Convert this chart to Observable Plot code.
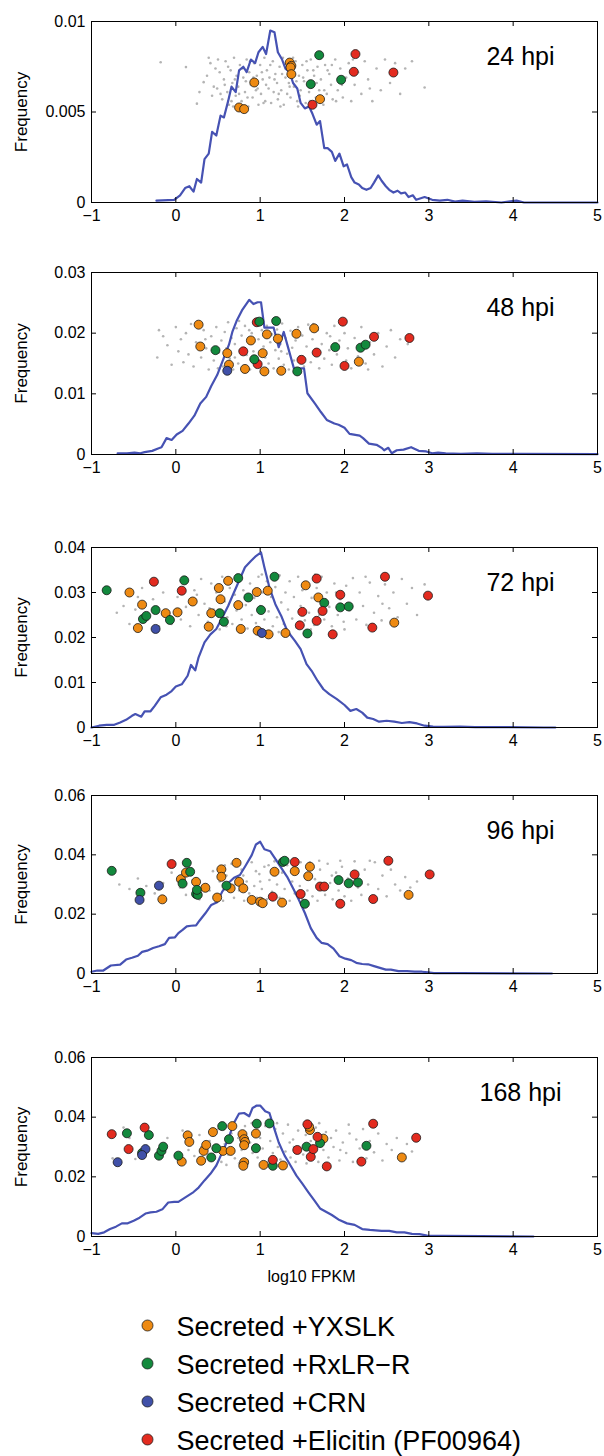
<!DOCTYPE html>
<html><head><meta charset="utf-8">
<script src="https://cdn.jsdelivr.net/npm/d3@7"></script>
<script src="https://cdn.jsdelivr.net/npm/@observablehq/plot@0.6"></script>
<style>
body{margin:0;background:#fff;font-family:"Liberation Sans",Arial,sans-serif}
#root{position:relative;width:604px;height:1456px;overflow:hidden;background:#fff}
</style></head>
<body><div id="root"></div>
<script>
const categories = ["Secreted +YXSLK","Secreted +RxLR\u2212R","Secreted +CRN","Secreted +Elicitin (PF00964)"];
const catColors = ["#ee8a12","#13893d","#4050a8","#e32b1f"];
const xTicks = [-1,0,1,2,3,4,5];
const panelLabels = ["24 hpi","48 hpi","72 hpi","96 hpi","168 hpi"];
const yMax = [0.01,0.03,0.04,0.06,0.06];
const yTicks24 = [0,0.005,0.01];
const yTicks48 = [0,0.01,0.02,0.03];
const yTicks72 = [0,0.01,0.02,0.03,0.04];
const yTicks96 = [0,0.02,0.04,0.06];
const yTicks168 = [0,0.02,0.04,0.06];

// background frequency distributions (blue lines)
const line24 = [[-0.23,0.0001],[-0.02,0.00015],[0.05,0.0004],[0.11,0.0008],[0.16,0.0009],[0.21,0.0006],[0.25,0.0013],[0.30,0.0011],[0.34,0.0024],[0.39,0.0027],[0.43,0.0039],[0.48,0.0037],[0.53,0.0048],[0.57,0.0047],[0.62,0.0056],[0.66,0.0064],[0.71,0.0061],[0.75,0.0073],[0.80,0.0075],[0.84,0.0072],[0.89,0.0079],[0.94,0.0077],[0.98,0.0083],[1.03,0.0086],[1.07,0.0082],[1.12,0.0095],[1.17,0.0094],[1.21,0.0083],[1.26,0.0079],[1.30,0.0074],[1.35,0.0072],[1.39,0.0066],[1.44,0.0063],[1.48,0.0055],[1.53,0.0052],[1.58,0.0053],[1.62,0.0049],[1.67,0.0043],[1.71,0.0045],[1.76,0.0030],[1.80,0.0030],[1.85,0.0028],[1.89,0.0023],[1.94,0.0027],[1.99,0.0020],[2.03,0.0021],[2.08,0.0014],[2.12,0.0011],[2.17,0.0010],[2.21,0.0008],[2.26,0.0007],[2.31,0.0008],[2.35,0.0011],[2.40,0.0015],[2.44,0.0012],[2.49,0.0009],[2.53,0.0007],[2.58,0.00055],[2.63,0.00065],[2.67,0.0005],[2.72,0.00055],[2.76,0.0003],[2.81,0.0004],[2.85,0.00015],[2.95,0.0003],[3.04,0.00015],[3.13,0.0001],[3.22,0.00015],[3.31,0.00005],[3.40,0.0001],[3.54,0.00004],[3.68,0.00007],[3.86,0],[4.04,0.0001],[4.13,0],[5.0,0]];
const line48 = [[-0.69,0.00017],[-0.58,0.00017],[-0.49,0.0003],[-0.42,0.0002],[-0.37,0.0004],[-0.28,0.0006],[-0.21,0.001],[-0.17,0.0012],[-0.11,0.0027],[-0.05,0.0024],[0.01,0.0033],[0.08,0.0039],[0.15,0.0051],[0.22,0.0064],[0.29,0.0084],[0.36,0.0095],[0.42,0.0113],[0.49,0.0131],[0.56,0.0156],[0.63,0.0181],[0.67,0.0202],[0.72,0.0220],[0.79,0.0239],[0.87,0.0255],[0.92,0.0248],[0.97,0.0251],[1.01,0.0251],[1.05,0.0209],[1.16,0.0209],[1.22,0.0177],[1.28,0.0202],[1.33,0.0177],[1.40,0.0142],[1.52,0.0142],[1.56,0.0101],[1.65,0.0084],[1.72,0.0070],[1.79,0.0057],[1.88,0.0051],[1.93,0.0049],[2.00,0.0044],[2.06,0.0034],[2.18,0.0031],[2.22,0.0027],[2.29,0.0018],[2.38,0.0016],[2.44,0.0011],[2.47,0.0007],[2.52,0.0011],[2.56,0.0002],[2.62,0.0007],[2.70,0.0008],[2.79,0.0012],[2.88,0.0006],[2.97,0.0005],[3.04,0.0002],[3.11,0.0003],[3.20,0.0002],[3.38,0.0001],[3.57,0.0002],[3.75,0.0001],[4.07,0.0001],[5.0,0.00005]];
const line72 = [[-1.0,0],[-0.91,0.0004],[-0.82,0.0006],[-0.73,0.0006],[-0.66,0.0011],[-0.59,0.0017],[-0.52,0.0026],[-0.48,0.003],[-0.41,0.0024],[-0.37,0.0036],[-0.30,0.0036],[-0.25,0.0048],[-0.18,0.0067],[-0.11,0.0073],[-0.05,0.0081],[0.0,0.0091],[0.07,0.0096],[0.14,0.0115],[0.18,0.0139],[0.23,0.0127],[0.27,0.0156],[0.34,0.0189],[0.41,0.0207],[0.48,0.0219],[0.55,0.0244],[0.62,0.0270],[0.68,0.0296],[0.75,0.0326],[0.82,0.0356],[0.89,0.0370],[0.95,0.0381],[1.01,0.0389],[1.05,0.0356],[1.11,0.0311],[1.18,0.0274],[1.25,0.0248],[1.32,0.0215],[1.41,0.0193],[1.48,0.0174],[1.55,0.0141],[1.61,0.0126],[1.68,0.0104],[1.75,0.0085],[1.82,0.0074],[1.91,0.0063],[2.0,0.005],[2.07,0.0037],[2.14,0.0041],[2.21,0.0033],[2.27,0.0022],[2.34,0.0019],[2.41,0.0013],[2.50,0.0015],[2.59,0.0013],[2.68,0.0010],[2.77,0.0012],[2.86,0.0009],[2.95,0.0004],[3.05,0.0002],[3.18,0.00015],[3.37,0.0002],[3.55,0.0001],[3.82,0.0001],[4.36,0],[4.50,0]];
const line96 = [[-1,0.0006],[-0.93,0.001],[-0.86,0.001],[-0.77,0.0027],[-0.66,0.003],[-0.59,0.0047],[-0.52,0.0053],[-0.45,0.006],[-0.40,0.0073],[-0.34,0.0077],[-0.27,0.0086],[-0.20,0.0092],[-0.13,0.0099],[-0.08,0.012],[-0.01,0.0122],[0.03,0.0136],[0.08,0.0147],[0.13,0.0159],[0.18,0.0161],[0.24,0.0162],[0.28,0.0178],[0.35,0.0203],[0.42,0.0231],[0.49,0.0240],[0.55,0.0276],[0.62,0.0304],[0.69,0.0323],[0.76,0.0332],[0.83,0.0365],[0.90,0.0399],[0.95,0.0435],[1.0,0.0444],[1.05,0.0419],[1.12,0.0412],[1.19,0.0382],[1.25,0.0356],[1.32,0.0326],[1.39,0.0287],[1.46,0.0248],[1.53,0.0204],[1.60,0.0153],[1.67,0.0120],[1.73,0.0103],[1.80,0.0099],[1.87,0.0084],[1.94,0.0058],[2.01,0.0050],[2.08,0.0045],[2.14,0.0036],[2.21,0.0032],[2.28,0.0031],[2.35,0.0025],[2.42,0.0019],[2.49,0.0013],[2.55,0.0013],[2.64,0.0008],[2.74,0.0008],[2.83,0.0006],[2.92,0.0006],[2.99,0.0004],[3.06,0.0001],[3.37,0.0001],[4.46,0]];
const line168 = [[-1,0.0011],[-0.92,0.0009],[-0.85,0.0014],[-0.78,0.0025],[-0.71,0.0033],[-0.64,0.0044],[-0.57,0.0044],[-0.50,0.0053],[-0.43,0.0063],[-0.36,0.0077],[-0.30,0.0081],[-0.23,0.0083],[-0.16,0.0091],[-0.09,0.0114],[-0.02,0.0116],[0.03,0.0116],[0.09,0.0127],[0.15,0.0138],[0.21,0.0149],[0.27,0.0164],[0.34,0.0188],[0.41,0.0210],[0.48,0.0238],[0.55,0.0282],[0.62,0.0326],[0.69,0.0381],[0.75,0.0412],[0.81,0.0414],[0.87,0.0403],[0.91,0.0431],[0.96,0.0439],[1.0,0.0439],[1.06,0.0420],[1.11,0.0414],[1.17,0.0359],[1.22,0.0315],[1.29,0.0271],[1.36,0.0238],[1.43,0.0204],[1.50,0.0177],[1.57,0.0149],[1.64,0.0122],[1.71,0.0094],[1.78,0.0083],[1.85,0.0072],[1.94,0.0055],[2.03,0.0044],[2.12,0.0039],[2.21,0.0025],[2.30,0.0022],[2.44,0.0019],[2.53,0.0019],[2.62,0.0014],[2.71,0.0014],[2.80,0.0009],[2.89,0.0008],[2.98,0.0003],[3.16,0.0002],[3.62,0.0001],[4.24,0]];

// secreted genes: [log10 FPKM, frequency position, category index]
const pts24 = [[0.75,0.00525,0],[0.81,0.00516,0],[0.93,0.00663,0],[1.35,0.00773,0],[1.37,0.00755,0],[1.36,0.00746,0],[1.37,0.00709,0],[1.71,0.00571,0],[1.70,0.00814,1],[1.60,0.00654,1],[1.96,0.00678,1],[2.13,0.0082,3],[2.11,0.00722,3],[2.58,0.00718,3],[1.62,0.0054,3]];
const pts48 = [[0.27,0.0214,0],[0.29,0.0178,0],[0.61,0.0167,0],[0.63,0.0148,0],[0.82,0.0141,0],[0.89,0.0188,0],[1.03,0.0167,0],[1.05,0.0137,0],[1.08,0.0198,0],[1.21,0.0191,0],[1.25,0.0138,0],[1.43,0.0199,0],[1.64,0.0208,0],[2.17,0.0153,0],[0.61,0.0138,2],[0.96,0.0218,3],[0.80,0.0170,3],[0.97,0.0149,3],[1.49,0.0156,3],[1.67,0.0168,3],[1.98,0.0219,3],[2.00,0.0146,3],[2.35,0.0194,3],[2.77,0.0192,3],[0.47,0.0172,1],[0.93,0.0157,1],[0.99,0.0219,1],[1.19,0.0220,1],[1.44,0.0137,1],[1.89,0.0177,1],[2.19,0.0176,1],[2.25,0.0181,1]];
const pts72 = [[-0.55,0.0300,0],[-0.40,0.0273,0],[-0.45,0.0221,0],[-0.12,0.0254,0],[0.02,0.0256,0],[0.20,0.0280,0],[0.42,0.0254,0],[0.39,0.0224,0],[0.51,0.0310,0],[0.53,0.0285,0],[0.62,0.0326,0],[0.74,0.0272,0],[0.77,0.0219,0],[0.96,0.0301,0],[0.97,0.0215,0],[1.09,0.0304,0],[1.10,0.0207,0],[1.30,0.0210,0],[1.54,0.0316,0],[1.69,0.0289,0],[2.59,0.0233,0],[-0.24,0.0219,2],[1.02,0.0210,2],[-0.82,0.0305,1],[-0.39,0.0241,1],[-0.35,0.0248,1],[-0.24,0.0261,1],[-0.07,0.0239,1],[0.10,0.0327,1],[0.52,0.0254,1],[0.57,0.0235,1],[0.74,0.0332,1],[0.86,0.0289,1],[1.01,0.0261,1],[1.17,0.0335,1],[1.56,0.0209,1],[1.76,0.0277,1],[1.95,0.0267,1],[2.05,0.0269,1],[-0.26,0.0324,3],[0.07,0.0304,3],[1.67,0.0331,3],[1.95,0.0295,3],[1.50,0.0257,3],[1.74,0.0259,3],[1.67,0.0237,3],[1.47,0.0227,3],[1.86,0.0207,3],[2.33,0.0222,3],[2.48,0.0335,3],[2.99,0.0293,3]];
const pts96 = [[-0.16,0.0250,0],[0.06,0.0318,0],[0.12,0.0340,0],[0.24,0.0309,0],[0.35,0.0289,0],[0.49,0.0256,0],[0.54,0.0351,0],[0.54,0.0326,0],[0.65,0.0287,0],[0.72,0.0373,0],[0.75,0.0309,0],[0.80,0.0287,0],[0.90,0.0248,0],[1.00,0.0242,0],[1.03,0.0237,0],[1.17,0.0343,0],[1.26,0.0239,0],[1.41,0.0345,0],[1.59,0.0360,0],[1.57,0.0328,0],[2.76,0.0265,0],[-0.76,0.0346,1],[-0.42,0.0272,1],[0.08,0.0303,1],[0.13,0.0373,1],[0.17,0.0343,1],[0.24,0.0268,1],[0.26,0.0265,1],[0.25,0.0282,1],[0.60,0.0296,1],[1.27,0.0376,1],[1.29,0.0380,1],[1.53,0.0235,1],[1.93,0.0315,1],[2.05,0.0304,1],[2.16,0.0307,1],[-0.43,0.0248,2],[-0.20,0.0296,2],[-0.05,0.0369,3],[1.15,0.0259,3],[1.41,0.0376,3],[1.48,0.0268,3],[1.71,0.0293,3],[1.76,0.0293,3],[2.12,0.0334,3],[1.95,0.0235,3],[2.34,0.0251,3],[2.52,0.0380,3],[3.01,0.0334,3]];
const pts168 = [[0.14,0.0339,0],[0.16,0.0317,0],[0.07,0.0251,0],[0.30,0.0254,0],[0.33,0.0287,0],[0.36,0.0307,0],[0.44,0.0350,0],[0.56,0.0287,0],[0.65,0.0287,0],[0.67,0.0370,0],[0.79,0.0343,0],[0.81,0.0326,0],[0.82,0.0317,0],[0.81,0.0306,0],[0.81,0.0249,0],[0.80,0.0237,0],[0.95,0.0345,0],[1.04,0.0240,0],[1.27,0.0238,0],[1.59,0.0357,0],[1.58,0.0368,0],[1.75,0.0328,0],[2.68,0.0265,0],[-0.58,0.0346,1],[-0.32,0.0340,1],[-0.40,0.0280,1],[-0.20,0.0271,1],[-0.17,0.0287,1],[-0.15,0.0301,1],[0.03,0.0271,1],[0.42,0.0265,1],[0.48,0.0296,1],[0.55,0.0370,1],[0.63,0.0326,1],[0.96,0.0378,1],[0.95,0.0296,1],[1.11,0.0379,1],[1.15,0.0237,1],[1.55,0.0301,1],[1.71,0.0313,1],[2.26,0.0304,1],[-0.69,0.0249,2],[-0.36,0.0293,2],[-0.40,0.0273,2],[-0.76,0.0343,3],[-0.56,0.0293,3],[-0.37,0.0365,3],[1.15,0.0257,3],[1.56,0.0376,3],[1.60,0.0267,3],[1.63,0.0293,3],[1.68,0.0334,3],[1.44,0.0290,3],[1.79,0.0235,3],[2.20,0.0251,3],[2.34,0.0378,3],[2.85,0.0331,3]];

// all expressed genes (grey background points)
const gray24 = [[-0.18,0.00775],[0.12,0.00748],[0.25,0.00546],[0.28,0.0061],[0.33,0.00665],[0.37,0.007],[0.39,0.008],[0.41,0.0077],[0.43,0.0059],[0.45,0.0064],[0.47,0.0074],[0.49,0.0063],[0.52,0.0072],[0.55,0.0057],[0.57,0.0068],[0.59,0.0078],[0.61,0.0061],[0.63,0.0054],[0.65,0.0073],[0.67,0.0066],[0.69,0.008],[0.71,0.0059],[0.72,0.007],[0.74,0.0064],[0.76,0.0076],[0.78,0.0056],[0.80,0.0069],[0.82,0.0061],[0.84,0.0079],[0.86,0.0053],[0.87,0.0072],[0.89,0.0065],[0.91,0.0058],[0.93,0.0077],[0.95,0.0062],[0.96,0.007],[0.98,0.0054],[1.00,0.0076],[1.01,0.006],[1.03,0.0068],[1.05,0.008],[1.06,0.0056],[1.08,0.0073],[1.10,0.0063],[1.11,0.0069],[1.13,0.0055],[1.15,0.0078],[1.16,0.0061],[1.18,0.0071],[1.20,0.0066],[1.21,0.0057],[1.23,0.0075],[1.25,0.0062],[1.27,0.008],[1.28,0.0054],[1.30,0.0069],[1.32,0.006],[1.34,0.0066],[1.36,0.0058],[1.38,0.0072],[1.40,0.0064],[1.42,0.0078],[1.44,0.0056],[1.46,0.007],[1.48,0.0062],[1.50,0.0076],[1.52,0.0067],[1.54,0.0055],[1.56,0.0073],[1.58,0.0061],[1.60,0.0079],[1.62,0.0064],[1.64,0.007],[1.66,0.0058],[1.68,0.0075],[1.70,0.0062],[1.72,0.0068],[1.75,0.0054],[1.77,0.0076],[1.79,0.006],[1.82,0.0071],[1.84,0.0065],[1.86,0.0057],[1.89,0.0079],[1.92,0.0062],[1.95,0.0074],[1.98,0.0058],[2.02,0.0069],[2.05,0.0077],[2.08,0.0056],[2.12,0.0065],[2.16,0.0072],[2.20,0.006],[2.24,0.0078],[2.28,0.0068],[2.33,0.0056],[2.38,0.0074],[2.43,0.0062],[2.48,0.0079],[2.54,0.0066],[2.60,0.0077],[2.66,0.006],[2.72,0.0074],[2.80,0.0078],[2.95,0.00635],[0.50,0.0079],[0.53,0.006],[0.58,0.0065],[0.62,0.0075],[0.66,0.0056],[0.70,0.0068],[0.75,0.006],[0.79,0.0074],[0.83,0.0067],[0.88,0.0078],[0.92,0.0069],[0.97,0.0063],[1.02,0.0072],[1.07,0.0065],[1.12,0.0076],[1.17,0.0068],[1.22,0.006],[1.26,0.0071],[1.31,0.0077],[1.35,0.0064],[1.39,0.008],[1.43,0.0067],[1.47,0.0059],[1.51,0.0069],[1.55,0.0078],[1.59,0.0056],[1.63,0.0073],[1.67,0.0066],[1.71,0.008],[1.76,0.0062],[1.80,0.0073],[1.85,0.0076],[1.90,0.0056],[1.97,0.0065],[2.10,0.0079],[2.30,0.0063],[0.85,0.0058],[1.04,0.0055],[1.24,0.0053],[1.45,0.0053],[0.68,0.0053],[1.65,0.0054]];
const gray48 = [[-0.22,0.016],[-0.20,0.0205],[-0.15,0.0195],[-0.10,0.018],[-0.05,0.0148],[0.00,0.021],[0.03,0.017],[0.06,0.019],[0.09,0.0152],[0.12,0.02],[0.15,0.0165],[0.18,0.0215],[0.21,0.0145],[0.24,0.0185],[0.30,0.016],[0.33,0.0205],[0.36,0.0175],[0.39,0.014],[0.42,0.0195],[0.45,0.0155],[0.48,0.021],[0.51,0.0168],[0.54,0.0188],[0.56,0.0145],[0.58,0.0202],[0.60,0.0175],[0.62,0.0218],[0.64,0.0158],[0.66,0.0192],[0.68,0.014],[0.70,0.0182],[0.72,0.0208],[0.74,0.015],[0.76,0.0172],[0.78,0.0196],[0.80,0.0146],[0.82,0.0212],[0.84,0.0164],[0.86,0.0186],[0.88,0.014],[0.90,0.02],[0.92,0.017],[0.94,0.0216],[0.96,0.0155],[0.98,0.019],[1.00,0.0145],[1.02,0.0205],[1.04,0.0178],[1.06,0.016],[1.08,0.0212],[1.10,0.015],[1.12,0.0185],[1.14,0.0198],[1.16,0.0142],[1.18,0.0172],[1.20,0.0206],[1.22,0.0158],[1.24,0.0182],[1.26,0.0216],[1.28,0.0148],[1.30,0.0192],[1.32,0.0166],[1.34,0.014],[1.36,0.0204],[1.38,0.0176],[1.40,0.0155],[1.42,0.0188],[1.45,0.021],[1.47,0.0162],[1.50,0.0196],[1.52,0.0145],[1.55,0.0178],[1.57,0.0214],[1.60,0.0152],[1.62,0.019],[1.65,0.0168],[1.68,0.0205],[1.70,0.0142],[1.73,0.0182],[1.76,0.0158],[1.79,0.02],[1.82,0.0172],[1.85,0.0148],[1.88,0.0212],[1.91,0.0165],[1.94,0.0188],[1.97,0.015],[2.00,0.02],[2.04,0.0175],[2.08,0.0142],[2.12,0.0192],[2.16,0.0162],[2.20,0.021],[2.25,0.015],[2.30,0.0185],[2.35,0.0165],[2.40,0.02],[2.45,0.0145],[2.50,0.0178],[2.55,0.0205],[2.60,0.016],[2.66,0.019],[2.75,0.0182],[0.50,0.0142],[0.70,0.016],[0.87,0.0205],[1.05,0.0195],[1.25,0.017],[1.44,0.014],[1.63,0.0215],[1.83,0.0195],[2.02,0.0155],[0.35,0.019],[2.28,0.014],[1.15,0.0222],[0.75,0.022],[1.95,0.022]];
const gray72 = [[-0.70,0.0255],[-0.62,0.027],[-0.55,0.023],[-0.48,0.0262],[-0.40,0.031],[-0.33,0.024],[-0.27,0.0285],[-0.20,0.0225],[-0.15,0.03],[-0.10,0.0255],[-0.05,0.023],[0.02,0.029],[0.06,0.024],[0.12,0.0268],[0.17,0.0225],[0.22,0.0305],[0.27,0.025],[0.30,0.033],[0.34,0.0275],[0.38,0.0235],[0.42,0.032],[0.45,0.0262],[0.48,0.03],[0.52,0.0218],[0.55,0.0335],[0.58,0.028],[0.61,0.0245],[0.64,0.031],[0.67,0.023],[0.70,0.0295],[0.72,0.026],[0.75,0.0338],[0.78,0.024],[0.80,0.0305],[0.83,0.0272],[0.85,0.022],[0.88,0.032],[0.90,0.025],[0.93,0.0288],[0.95,0.0232],[0.98,0.0335],[1.00,0.027],[1.03,0.03],[1.05,0.024],[1.08,0.0325],[1.10,0.0258],[1.13,0.029],[1.15,0.0225],[1.18,0.0312],[1.20,0.0245],[1.23,0.0338],[1.25,0.0278],[1.28,0.023],[1.30,0.03],[1.33,0.0262],[1.35,0.0325],[1.38,0.0242],[1.40,0.029],[1.43,0.0222],[1.45,0.0335],[1.48,0.027],[1.50,0.0305],[1.53,0.0238],[1.56,0.032],[1.58,0.0255],[1.61,0.0288],[1.64,0.0228],[1.67,0.031],[1.70,0.025],[1.73,0.0335],[1.76,0.024],[1.79,0.03],[1.82,0.0268],[1.85,0.0225],[1.88,0.032],[1.92,0.025],[1.95,0.0285],[1.99,0.0235],[2.02,0.0315],[2.06,0.026],[2.10,0.0332],[2.14,0.024],[2.18,0.03],[2.22,0.027],[2.26,0.0228],[2.30,0.0322],[2.35,0.0255],[2.40,0.0292],[2.44,0.0238],[2.48,0.0318],[2.53,0.0265],[2.58,0.03],[2.63,0.0245],[2.68,0.033],[2.74,0.0275],[2.80,0.031],[2.86,0.025],[2.95,0.0318],[0.60,0.0225],[0.97,0.0215],[1.22,0.0212],[1.60,0.0218],[2.00,0.0218],[0.40,0.0265],[1.02,0.034],[1.65,0.034],[2.25,0.0335],[0.25,0.0295],[1.90,0.03],[2.45,0.0275],[-0.45,0.029],[0.10,0.032]];
const gray96 = [[-0.67,0.03],[-0.55,0.0285],[-0.45,0.032],[-0.35,0.0295],[-0.25,0.027],[-0.15,0.0305],[-0.05,0.034],[0.05,0.029],[0.12,0.0265],[0.20,0.0315],[0.28,0.025],[0.35,0.03],[0.40,0.028],[0.44,0.0345],[0.48,0.0262],[0.52,0.031],[0.56,0.0245],[0.60,0.033],[0.63,0.029],[0.66,0.037],[0.69,0.0255],[0.72,0.032],[0.75,0.028],[0.78,0.035],[0.81,0.0245],[0.84,0.031],[0.87,0.027],[0.90,0.0375],[0.93,0.0295],[0.96,0.0255],[0.99,0.0335],[1.02,0.0285],[1.05,0.036],[1.08,0.025],[1.11,0.0315],[1.14,0.0275],[1.17,0.0378],[1.20,0.03],[1.23,0.0255],[1.26,0.034],[1.29,0.0285],[1.32,0.0365],[1.35,0.0245],[1.38,0.031],[1.41,0.027],[1.44,0.0355],[1.47,0.0295],[1.50,0.025],[1.53,0.033],[1.56,0.028],[1.59,0.0375],[1.62,0.026],[1.65,0.0318],[1.68,0.0245],[1.71,0.035],[1.74,0.029],[1.77,0.0265],[1.80,0.037],[1.83,0.0305],[1.86,0.025],[1.90,0.034],[1.93,0.028],[1.97,0.036],[2.00,0.026],[2.04,0.032],[2.08,0.0245],[2.12,0.0378],[2.16,0.029],[2.20,0.0265],[2.24,0.035],[2.28,0.03],[2.32,0.025],[2.36,0.0375],[2.40,0.0285],[2.45,0.033],[2.50,0.026],[2.55,0.035],[2.60,0.03],[2.66,0.028],[2.72,0.0325],[2.78,0.029],[2.86,0.031],[0.58,0.0365],[0.80,0.033],[0.95,0.0345],[1.10,0.0365],[1.25,0.0375],[1.48,0.0375],[1.70,0.038],[1.95,0.038],[2.30,0.038],[0.70,0.03],[1.00,0.031],[1.40,0.034],[1.85,0.033],[2.15,0.033]];
const gray168 = [[-0.75,0.0262],[-0.62,0.0365],[-0.48,0.026],[-0.35,0.035],[-0.22,0.0275],[-0.10,0.033],[0.00,0.0265],[0.08,0.0355],[0.15,0.029],[0.22,0.027],[0.28,0.034],[0.34,0.0255],[0.40,0.032],[0.46,0.0285],[0.50,0.036],[0.54,0.025],[0.58,0.031],[0.62,0.0275],[0.66,0.0345],[0.70,0.0262],[0.74,0.033],[0.78,0.029],[0.82,0.037],[0.85,0.0255],[0.88,0.0315],[0.91,0.028],[0.94,0.0355],[0.97,0.0265],[1.00,0.033],[1.03,0.0295],[1.06,0.037],[1.09,0.025],[1.12,0.032],[1.15,0.028],[1.18,0.036],[1.21,0.03],[1.24,0.0258],[1.27,0.0345],[1.30,0.0285],[1.33,0.0375],[1.36,0.0265],[1.39,0.0325],[1.42,0.025],[1.45,0.0355],[1.48,0.0295],[1.51,0.0275],[1.54,0.034],[1.57,0.026],[1.60,0.032],[1.63,0.028],[1.66,0.0365],[1.69,0.025],[1.72,0.031],[1.75,0.029],[1.78,0.035],[1.81,0.0265],[1.84,0.033],[1.87,0.03],[1.90,0.0355],[1.94,0.0255],[1.98,0.0315],[2.02,0.028],[2.06,0.0345],[2.10,0.025],[2.14,0.0325],[2.18,0.0295],[2.22,0.036],[2.26,0.0262],[2.30,0.032],[2.35,0.0282],[2.40,0.0345],[2.45,0.0255],[2.50,0.031],[2.56,0.029],[2.62,0.033],[2.68,0.027],[2.74,0.031],[2.80,0.0285],[0.60,0.024],[1.05,0.0245],[1.40,0.03],[1.70,0.038],[1.20,0.038],[0.90,0.038],[2.05,0.0375],[1.55,0.0245],[0.75,0.0245],[2.20,0.025],[1.95,0.029],[1.35,0.0315],[0.30,0.03],[-0.55,0.033]];

const panels = [
  {label: panelLabels[0], ymax: yMax[0], yticks: yTicks24, line: line24, pts: pts24, gray: gray24, top: 21, bottom: 202},
  {label: panelLabels[1], ymax: yMax[1], yticks: yTicks48, line: line48, pts: pts48, gray: gray48, top: 272, bottom: 454},
  {label: panelLabels[2], ymax: yMax[2], yticks: yTicks72, line: line72, pts: pts72, gray: gray72, top: 547, bottom: 727},
  {label: panelLabels[3], ymax: yMax[3], yticks: yTicks96, line: line96, pts: pts96, gray: gray96, top: 795, bottom: 973},
  {label: panelLabels[4], ymax: yMax[4], yticks: yTicks168, line: line168, pts: pts168, gray: gray168, top: 1057, bottom: 1236, last: true}
];

const FONT = "'Liberation Sans', Arial, Helvetica, sans-serif";
const LINE = "#4652b3";
const root = document.getElementById("root");
const fmtX = d => d < 0 ? "\u2212" + (-d) : String(d);
const ML = 91, MR = 7, W = 604;

for (const p of panels) {
  const mt = 14, mb = p.last ? 60 : 30;
  const fh = p.bottom - p.top;
  const fw = W - ML - MR;
  const chart = Plot.plot({
    width: W, height: fh + mt + mb,
    marginLeft: ML, marginRight: MR, marginTop: mt, marginBottom: mb,
    style: {fontFamily: FONT, fontSize: "16px", color: "#000", background: "transparent", overflow: "visible"},
    x: {domain: [-1, 5], ticks: xTicks, tickFormat: fmtX, tickSize: 0, tickPadding: 7, label: null},
    y: {domain: [0, p.ymax], ticks: p.yticks, tickFormat: d => String(d), tickSize: 0, tickPadding: 6, label: null},
    color: {domain: categories, range: catColors},
    marks: [
      Plot.dot(p.gray, {x: d => d[0], y: d => d[1], r: 1.3, fill: "#b4b4b4", stroke: null}),
      Plot.line(p.line, {x: d => d[0], y: d => d[1], stroke: LINE, strokeWidth: 2.2}),
      Plot.dot(p.pts, {x: d => d[0], y: d => d[1], r: 4.5, fill: d => categories[d[2]], stroke: "#1a1a1a", strokeWidth: 0.8}),
      Plot.frame({stroke: "#000", strokeWidth: 1}),
      Plot.tickY(p.yticks, {y: d => d, insetRight: fw - 5, stroke: "#000"}),
      Plot.tickY(p.yticks, {y: d => d, insetLeft: fw - 5, stroke: "#000"}),
      Plot.tickX(xTicks, {x: d => d, insetTop: fh - 5, stroke: "#000"}),
      Plot.tickX(xTicks, {x: d => d, insetBottom: fh - 5, stroke: "#000"}),
      Plot.text([p.label], {frameAnchor: "top-left", dx: 429, dy: 26, lineAnchor: "top", textAnchor: "middle", fontSize: 25, fill: "#000"}),
      Plot.text(["Frequency"], {frameAnchor: "left", dx: -70, rotate: -90, textAnchor: "middle", lineAnchor: "middle", fontSize: 17, fill: "#000"}),
      p.last ? Plot.text(["log10 FPKM"], {frameAnchor: "bottom-left", dx: 220, dy: 40, lineAnchor: "middle", textAnchor: "middle", fontSize: 16, fill: "#000"}) : null
    ]
  });
  chart.style.position = "absolute";
  chart.style.left = "0px";
  chart.style.top = (p.top - mt) + "px";
  root.appendChild(chart);
}

const legend = Plot.plot({
  width: W, height: 156, margin: 0,
  style: {fontFamily: FONT, color: "#000", background: "transparent", overflow: "visible"},
  y: {type: "point", domain: categories, range: [24, 140], padding: 0, axis: null},
  color: {domain: categories, range: catColors},
  marks: [
    Plot.dot(categories, {y: d => d, frameAnchor: "left", dx: 147, r: 5.5, fill: d => d, stroke: "#222", strokeWidth: 0.8}),
    Plot.text(categories, {y: d => d, frameAnchor: "left", dx: 176, dy: 2, textAnchor: "start", lineAnchor: "middle", fontSize: 27, fill: "#000"})
  ]
});
legend.style.position = "absolute";
legend.style.left = "0px";
legend.style.top = "1300px";
root.appendChild(legend);
</script>
</body></html>
